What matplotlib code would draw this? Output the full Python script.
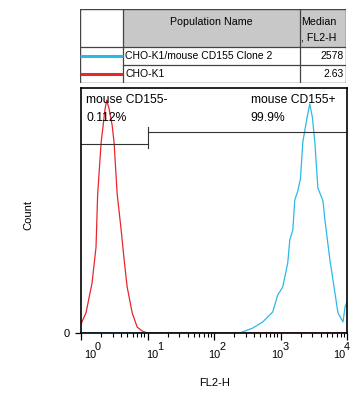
import numpy as np
import matplotlib
matplotlib.use("Agg")
import matplotlib.pyplot as plt
from matplotlib.patches import Rectangle

plt.rcParams['font.family'] = ['Liberation Sans', 'DejaVu Sans']

# populations (legend table)
pop_names = ['CHO-K1/mouse CD155 Clone 2', 'CHO-K1']
pop_medians = ['2578', '2.63']
pop_colors = ['#2bb9e8', '#e8262b']

# red histogram: CHO-K1 (log10 FL2-H, count)
red_logx = [0.0, 0.075, 0.166, 0.226, 0.25, 0.302, 0.36, 0.385, 0.42, 0.468,
            0.498, 0.543, 0.604, 0.649, 0.694, 0.77, 0.845, 0.92, 1.0, 2.0, 3.0, 4.0]
red_count = [3.7, 8.2, 20.4, 35.1, 56.3, 77.6, 91.0, 95.0, 91.8, 84.9,
             77.6, 57.0, 42.0, 29.8, 18.8, 8.2, 2.4, 0.8, 0, 0, 0, 0]

# blue histogram: CHO-K1/mouse CD155 Clone 2
blue_logx = [0.0, 1.0, 2.0, 2.385, 2.581, 2.732, 2.883, 2.958, 3.034, 3.109, 3.14,
             3.185, 3.215, 3.26, 3.30, 3.336, 3.40, 3.44, 3.48, 3.517, 3.562, 3.638, 3.668,
             3.743, 3.819, 3.864, 3.94, 3.97, 4.0]
blue_count = [0, 0, 0, 0, 2.0, 4.5, 8.6, 15.5, 18.8, 28.6, 38.0,
              42.0, 54.3, 58.0, 63.0, 78.0, 88.0, 93.5, 88.0, 77.6, 59.2, 54.0, 46.1,
              29.8, 16.3, 8.2, 4.5, 10.6, 12.7]

# gates
gate_names = ['mouse CD155-', 'mouse CD155+']
gate_pcts = ['0.112%', '99.9%']
gate_lo = [1, 10]
gate_hi = [10, 10000]
gate_level = [77.1, 82.0]
gate_label_x = [1.19, 355]

decades = [0, 1, 2, 3, 4]
label_shift_px = [3, -1, -6, -9, -14]   # labels sit slightly compressed vs. ticks

fig = plt.figure(figsize=(3.55, 3.94), dpi=100)
ax = fig.add_axes([81 / 355, 1 - 333 / 394, 266 / 355, 245 / 394])

ax.plot(10 ** np.array(red_logx), red_count, color=pop_colors[1], lw=0.9)
ax.plot(10 ** np.array(blue_logx), blue_count, color=pop_colors[0], lw=0.9)

ax.set_xscale('log')
ax.set_xlim(1, 10000)
ax.set_ylim(0, 100)

for i in range(len(gate_names)):
    ax.plot([gate_lo[i], gate_hi[i]], [gate_level[i], gate_level[i]], color='#333333', lw=0.8)
    ax.text(gate_label_x[i], 95, gate_names[i], fontsize=8.7, va='center', ha='left')
    ax.text(gate_label_x[i], 87.8, gate_pcts[i], fontsize=8.7, va='center', ha='left')
ax.plot([10, 10], [75.5, 84.1], color='#333333', lw=0.8)

ax.set_yticks([0])
ax.set_yticklabels(['0'], fontsize=8)
ax.set_xticks([10 ** d for d in decades])
ax.set_xticklabels([])
# "10" with a full-size raised exponent, like the cytometry software
for d, sh in zip(decades, label_shift_px):
    ax.annotate('10', xy=(10 ** d, 0), xycoords=('data', 'axes fraction'),
                xytext=(sh * 0.72, -18), textcoords='offset points', fontsize=7.8,
                ha='left', va='baseline', annotation_clip=False)
    ax.annotate(str(d), xy=(10 ** d, 0), xycoords=('data', 'axes fraction'),
                xytext=((sh + 11) * 0.72, -12.2), textcoords='offset points', fontsize=7.8,
                ha='left', va='baseline', annotation_clip=False)
ax.xaxis.set_minor_locator(matplotlib.ticker.LogLocator(base=10, subs=np.arange(2, 10)))
ax.xaxis.set_minor_formatter(matplotlib.ticker.NullFormatter())
ax.tick_params(axis='x', which='major', length=5, width=0.9, pad=3)
ax.tick_params(axis='x', which='minor', length=3, width=0.8)
ax.tick_params(axis='y', length=4, width=0.9, pad=4)
for s in ax.spines.values():
    s.set_linewidth(1.2)

fig.text(28 / 355, 1 - 215 / 394, 'Count', rotation=90, fontsize=8, ha='center', va='center')
fig.text(215 / 355, 1 - 383 / 394, 'FL2-H', fontsize=8, ha='center', va='center')

# legend table
tab = fig.add_axes([80 / 355, 1 - 83 / 394, 266 / 355, 74 / 394])
tab.set_xlim(0, 266)
tab.set_ylim(74, 0)
tab.axis('off')
tab.add_patch(Rectangle((43, 0), 223, 38, facecolor='#c8c8c8', edgecolor='none'))
lc = '#444444'
tab.add_patch(Rectangle((0, 0), 266, 74, facecolor='none', edgecolor=lc, lw=1.0))
tab.plot([0, 266], [38, 38], color=lc, lw=0.9)
tab.plot([43, 266], [56, 56], color=lc, lw=0.9)
tab.plot([43, 43], [0, 74], color=lc, lw=0.9)
tab.plot([220, 220], [0, 74], color=lc, lw=0.9)
tab.text(131, 13, 'Population Name', fontsize=7.7, ha='center', va='center')
tab.text(221, 13, 'Median', fontsize=7.7, ha='left', va='center')
tab.text(221, 29, ', FL2-H', fontsize=7.7, ha='left', va='center')
for i in range(len(pop_names)):
    yc = 47 + 18 * i
    tab.plot([0, 43], [yc, yc], color=pop_colors[i], lw=2.2, solid_capstyle='butt')
    tab.text(45, yc, pop_names[i], fontsize=7.5, ha='left', va='center')
    tab.text(264, yc, pop_medians[i], fontsize=7.5, ha='right', va='center')

fig.savefig('out.png', dpi=100)
